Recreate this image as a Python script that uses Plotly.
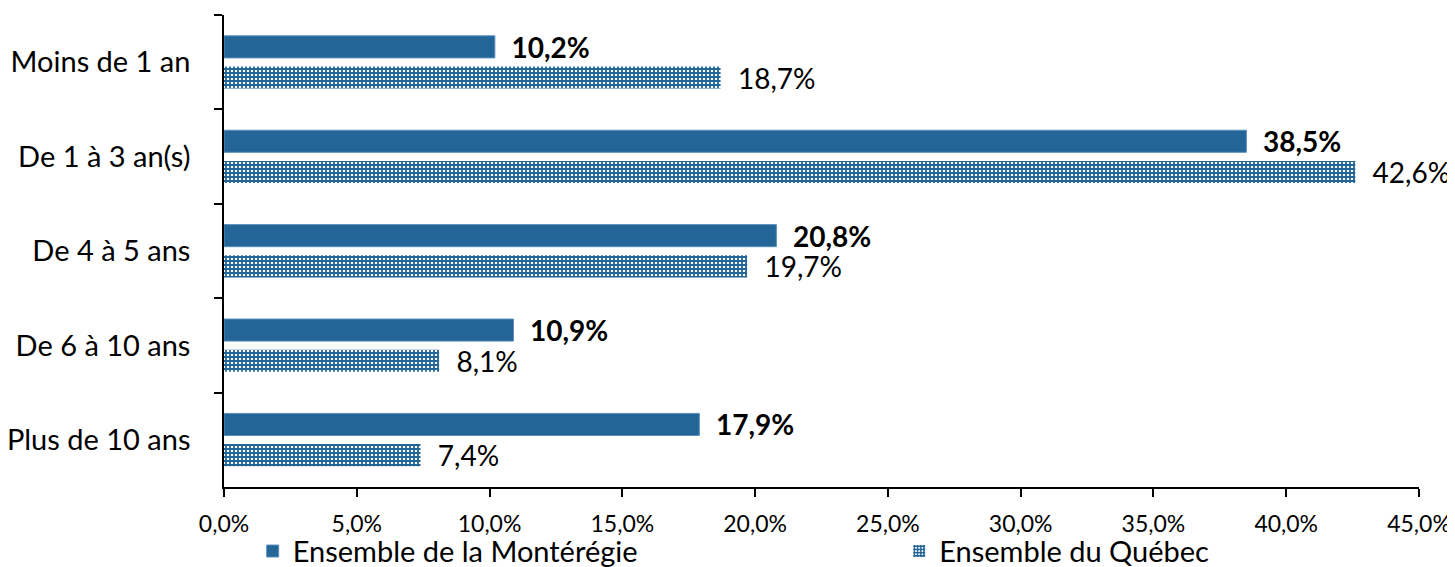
import plotly.graph_objects as go

categories = ["Moins de 1 an", "De 1 à 3 an(s)", "De 4 à 5 ans", "De 6 à 10 ans", "Plus de 10 ans"]
monteregie = [10.2, 38.5, 20.8, 10.9, 17.9]
quebec = [18.7, 42.6, 19.7, 8.1, 7.4]
series_names = ["Ensemble de la Montérégie", "Ensemble du Québec"]
tick_vals = [0, 5, 10, 15, 20, 25, 30, 35, 40, 45]
tick_text = ["0,0%", "5,0%", "10,0%", "15,0%", "20,0%", "25,0%", "30,0%", "35,0%", "40,0%", "45,0%"]

BLUE = "#236596"
FONT = "Lato, 'Open Sans', sans-serif"

def fmt(v):
    return "  " + f"{v:.1f}".replace(".", ",") + "%"

fig = go.Figure()
fig.add_trace(go.Bar(
    y=categories, x=monteregie, orientation="h", name=series_names[0],
    marker=dict(color=BLUE, line=dict(color="#5b8fbf", width=1)),
    text=["<b>" + fmt(v) + "</b>" for v in monteregie],
    textposition="outside", constraintext="none",
    textfont=dict(size=28, color="black", family=FONT),
    cliponaxis=False, legend="legend",
))
fig.add_trace(go.Bar(
    y=categories, x=quebec, orientation="h", name=series_names[1],
    marker=dict(color="white", line=dict(width=0),
                pattern=dict(shape="+", fgcolor=BLUE, bgcolor="white", fgopacity=1,
                             size=4, solidity=0.7, fillmode="replace")),
    text=[fmt(v) for v in quebec],
    textposition="outside", constraintext="none",
    textfont=dict(size=28, color="black", family=FONT),
    cliponaxis=False, legend="legend2",
))

legend_common = dict(orientation="h", yanchor="middle", y=-0.136, xanchor="left",
                     font=dict(size=29, family=FONT), bgcolor="rgba(0,0,0,0)")

# page body has an 8px margin: figure sized/offset so the plot area lands where the reference has it
fig.update_layout(
    width=1447, height=559,
    margin=dict(l=216, r=36, t=7, b=80, autoexpand=False),
    plot_bgcolor="white", paper_bgcolor="white",
    barmode="group", bargap=0.35, bargroupgap=0.28,
    font=dict(family=FONT, color="black"),
    legend=dict(x=0.024, **legend_common),
    legend2=dict(x=0.565, **legend_common),
    showlegend=True,
)
fig.update_xaxes(
    range=[0, 45], tickvals=tick_vals, ticktext=tick_text,
    showline=True, linecolor="black", linewidth=1.5, mirror=False,
    ticks="outside", ticklen=8, tickcolor="black", tickwidth=1.5,
    showgrid=False, zeroline=False,
    tickfont=dict(size=23, family=FONT), ticklabelstandoff=8,
)
fig.update_yaxes(
    categoryorder="array", categoryarray=categories, autorange="reversed",
    showline=True, linecolor="black", linewidth=1.5,
    ticks="outside", ticklen=8, tickcolor="black", tickwidth=1.5, tickson="boundaries",
    showgrid=False, zeroline=False,
    tickfont=dict(size=29, family=FONT), ticklabelstandoff=26,
)

fig.write_html("out.html")
